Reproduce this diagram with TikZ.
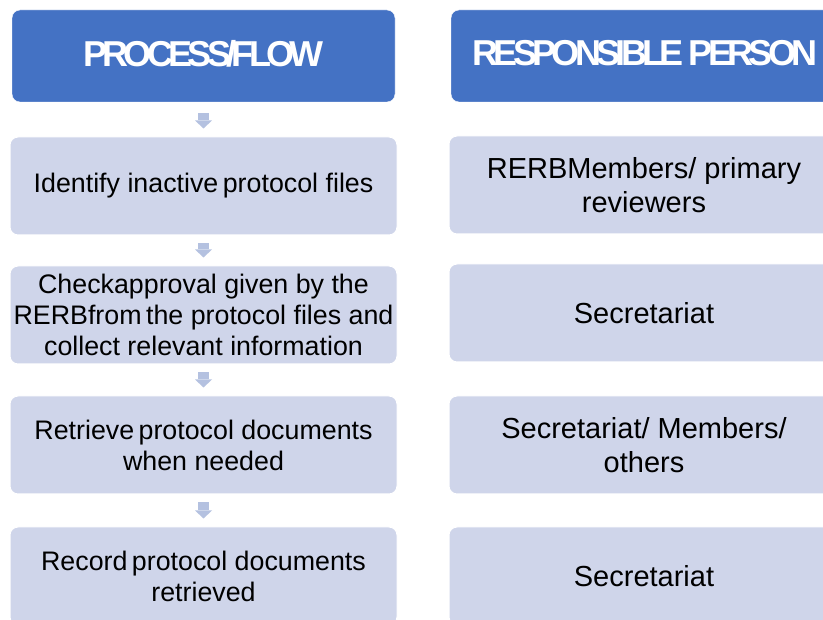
\documentclass[tikz,border=0pt]{standalone}
\usepackage{fontspec}
\setmainfont{Liberation Sans}
\newfontfamily\headfont{Liberation Sans}[LetterSpace=-13]
\usetikzlibrary{arrows.meta}

\definecolor{hdrblue}{HTML}{4472C4}
\definecolor{boxfill}{HTML}{CFD5EA}
\definecolor{arrowfill}{HTML}{B4C1E0}

\tikzset{
    header/.style={fill=hdrblue, draw=white, rounded corners=8pt, minimum height=92pt,
        inner sep=0pt, text=white, text depth=6pt,
        font=\headfont\bfseries\fontsize{36}{40}\selectfont},
    stepbox/.style={fill=boxfill, draw=white, line width=1pt, rounded corners=8pt,
        minimum height=98pt, minimum width=387pt, inner sep=0pt, align=center,
        font=\fontsize{26.8}{31}\selectfont},
    whobox/.style={stepbox, minimum width=390pt, font=\fontsize{29}{34}\selectfont},
    flow/.style={draw=arrowfill, line width=11pt,
        -{Triangle[length=8pt,width=17pt,line width=0pt]},
        shorten <=8pt, shorten >=8pt}
}

\begin{document}
\begin{tikzpicture}[x=1pt,y=-1pt]
    \useasboundingbox (0,0) rectangle (823,620);
    \clip (0,0) rectangle (823,620);

    \node[header, minimum width=383pt] (proc) at (203.5,56) {PROCESS/FLOW};
    \node[header, minimum width=388pt] (resp) at (645,56) {RESPONSIBLE PERSON};

    \node[stepbox] (s1) at (203.5,186) {Identify inactive\,protocol files};
    \node[stepbox] (s2) at (203.5,315) {Checkapproval given by the\\RERBfrom\,the protocol files and\\collect relevant information};
    \node[stepbox] (s3) at (203.5,445) {Retrieve\,protocol documents\\when needed};
    \node[stepbox] (s4) at (203.5,576) {Record\,protocol documents\\retrieved};

    \node[whobox] (r1) at (644,185) {RERBMembers/ primary\\reviewers};
    \node[whobox] (r2) at (644,313) {Secretariat};
    \node[whobox] (r3) at (644,445) {Secretariat/ Members/\\others};
    \node[whobox] (r4) at (644,576) {Secretariat};

    \draw[flow, shorten <=11pt] (proc) -- (s1);
    \draw[flow] (s1) -- (s2);
    \draw[flow] (s2) -- (s3);
    \draw[flow] (s3) -- (s4);
\end{tikzpicture}
\end{document}
